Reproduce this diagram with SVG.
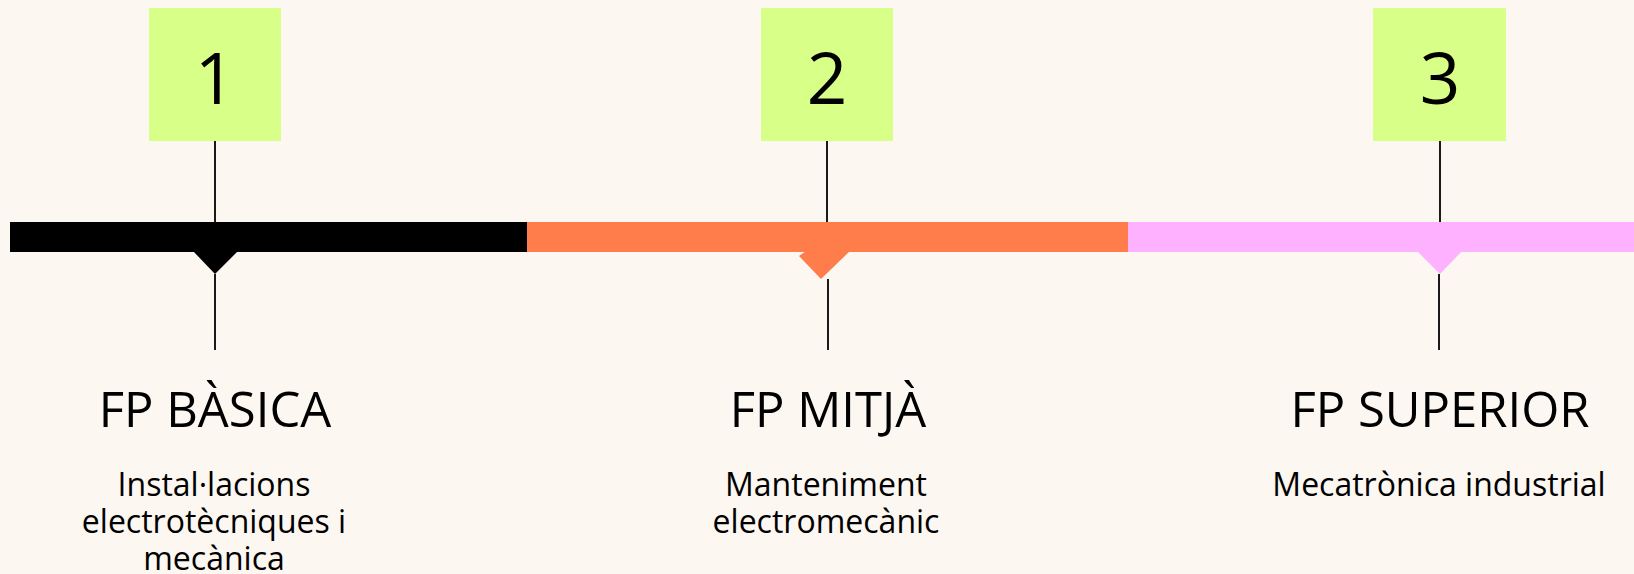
<svg xmlns="http://www.w3.org/2000/svg" width="1634" height="574" viewBox="0 0 1634 574">
<style>
.bg{fill:#FCF7F1}
.box{fill:#D8FF88}
.num{font-family:"Open Sans","Noto Sans",sans-serif;font-size:71px;fill:#000;text-anchor:middle}
.head{font-family:"Open Sans","Noto Sans",sans-serif;font-size:49px;fill:#000;text-anchor:middle}
.sub{font-family:"Open Sans","Noto Sans",sans-serif;font-size:32px;fill:#000;text-anchor:middle}
.ln{stroke:#1a1a1a;stroke-width:2;fill:none}
</style>
<rect class="bg" x="0" y="0" width="1634" height="574"/>
<g id="timeline">
<rect x="10" y="222" width="517" height="30" fill="#000"/>
<rect x="527" y="222" width="601" height="30" fill="#FF7D4A"/>
<rect x="1128" y="222" width="506" height="30" fill="#FEB1FF"/>
<polygon points="193,251 238,251 215,274" fill="#000"/>
<polygon points="806,251 799,256 821,279 850,251" fill="#FF7D4A"/>
<polygon points="1417,251 1462,251 1440,274" fill="#FEB1FF"/>
</g>
<g id="connectors">
<line class="ln" x1="215" y1="141" x2="215" y2="222"/>
<line class="ln" x1="215" y1="274" x2="215" y2="350"/>
<line class="ln" x1="827" y1="141" x2="827" y2="222"/>
<line class="ln" x1="828" y1="279" x2="828" y2="350"/>
<line class="ln" x1="1440" y1="141" x2="1440" y2="222"/>
<line class="ln" x1="1439" y1="274" x2="1439" y2="350"/>
</g>
<g id="node1">
<rect class="box" x="149" y="8" width="132" height="133"/>
<text class="num" x="215" y="104">1</text>
<text class="head" x="215" y="427">FP BÀSICA</text>
<text class="sub" x="214" y="496">Instal·lacions</text>
<text class="sub" x="214" y="533">electrotècniques i</text>
<text class="sub" x="214" y="570">mecànica</text>
</g>
<g id="node2">
<rect class="box" x="761" y="8" width="132" height="133"/>
<text class="num" x="827" y="104">2</text>
<text class="head" x="828" y="427">FP MITJÀ</text>
<text class="sub" x="826" y="496">Manteniment</text>
<text class="sub" x="826" y="533">electromecànic</text>
</g>
<g id="node3">
<rect class="box" x="1373" y="8" width="133" height="133"/>
<text class="num" x="1440" y="104">3</text>
<text class="head" x="1440" y="427">FP SUPERIOR</text>
<text class="sub" x="1439" y="496">Mecatrònica industrial</text>
</g>
</svg>
